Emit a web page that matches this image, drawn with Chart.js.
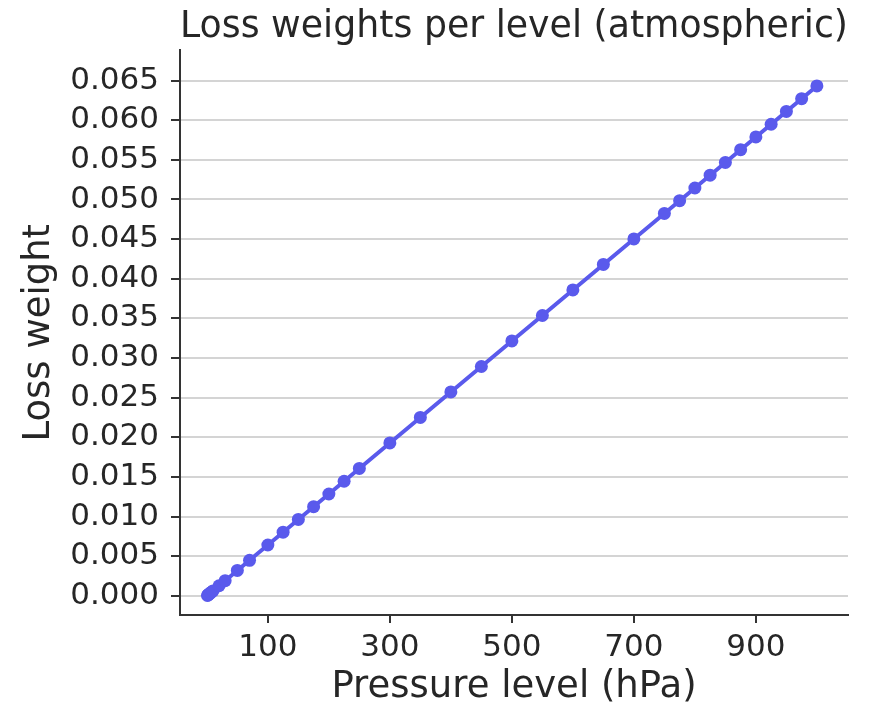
<!DOCTYPE html>
<html>
<head>
<meta charset="utf-8">
<title>Loss weights per level</title>
<script src="https://cdn.jsdelivr.net/npm/chart.js@4/dist/chart.umd.min.js"></script>
<style>
  html, body { margin: 0; padding: 0; background: #fff; }
  #wrap { width: 879px; height: 705px; }
</style>
</head>
<body>
<div id="wrap"><canvas id="lossChart"></canvas></div>
<script>
// Pressure levels (hPa) and their loss weights
const levels = [1, 2, 3, 5, 7, 10, 20, 30, 50, 70, 100, 125, 150, 175, 200, 225, 250,
  300, 350, 400, 450, 500, 550, 600, 650, 700, 750, 775, 800, 825, 850, 875, 900,
  925, 950, 975, 1000];
const weights = [0.00006, 0.00013, 0.00019, 0.00032, 0.00045, 0.00064, 0.00129, 0.00193,
  0.00322, 0.00450, 0.00643, 0.00804, 0.00965, 0.01126, 0.01286, 0.01447, 0.01608,
  0.01930, 0.02251, 0.02573, 0.02894, 0.03216, 0.03537, 0.03859, 0.04181, 0.04502,
  0.04824, 0.04985, 0.05145, 0.05306, 0.05467, 0.05628, 0.05789, 0.05949, 0.06110,
  0.06271, 0.06432];

// Axis ticks
const xTicks = [100, 300, 500, 700, 900];
const yTicks = [0, 0.005, 0.01, 0.015, 0.02, 0.025, 0.03, 0.035, 0.04, 0.045, 0.05,
  0.055, 0.06, 0.065];
const yTickLabels = ['0.000', '0.005', '0.010', '0.015', '0.020', '0.025', '0.030',
  '0.035', '0.040', '0.045', '0.050', '0.055', '0.060', '0.065'];

const fontFamily = '"DejaVu Sans", sans-serif';
const inkColor = '#333';
const textColor = '#262626';
const lineColor = '#5a5aec';

const points = levels.map((p, i) => ({ x: p, y: weights[i] }));

const ctx = document.getElementById('lossChart').getContext('2d');
new Chart(ctx, {
  type: 'line',
  data: {
    datasets: [{
      label: 'Loss weight',
      data: points,
      borderColor: lineColor,
      backgroundColor: lineColor,
      borderWidth: 4,
      pointRadius: 6.5,
      pointHoverRadius: 6.5,
      pointBorderWidth: 0,
      tension: 0,
      fill: false
    }]
  },
  options: {
    responsive: true,
    maintainAspectRatio: false,
    animation: false,
    layout: { padding: { left: 0, right: 31, top: 0, bottom: 0 } },
    plugins: {
      legend: { display: false },
      tooltip: { enabled: false },
      title: {
        display: true,
        fullSize: false,
        text: 'Loss weights per level (atmospheric)',
        color: textColor,
        font: { family: fontFamily, size: 37, weight: 'normal', lineHeight: 1.2 },
        padding: { top: 5, bottom: 1 }
      }
    },
    scales: {
      x: {
        type: 'linear',
        min: -44,
        max: 1051,
        afterBuildTicks: (scale) => { scale.ticks = xTicks.map(v => ({ value: v })); },
        afterFit: (scale) => { scale.height = 90; },
        border: { display: true, color: inkColor, width: 2 },
        grid: { drawOnChartArea: false, drawTicks: true, tickLength: 8, tickColor: inkColor, lineWidth: 2 },
        ticks: {
          color: textColor,
          padding: 6,
          maxRotation: 0,
          font: { family: fontFamily, size: 31 },
          callback: (v) => String(v)
        },
        title: {
          display: true,
          text: 'Pressure level (hPa)',
          color: textColor,
          font: { family: fontFamily, size: 37, lineHeight: 1 },
          padding: { top: 0, bottom: -1 }
        }
      },
      y: {
        type: 'linear',
        min: -0.0024,
        max: 0.0688,
        afterBuildTicks: (scale) => { scale.ticks = yTicks.map(v => ({ value: v })); },
        afterFit: (scale) => { scale.width = 180; },
        border: { display: true, color: inkColor, width: 2 },
        grid: { color: '#d4d4d4', lineWidth: 2, drawTicks: true, tickLength: 9, tickColor: inkColor },
        ticks: {
          color: textColor,
          padding: 12,
          font: { family: fontFamily, size: 31 },
          callback: (v) => yTickLabels[yTicks.indexOf(v)]
        },
        title: {
          display: true,
          text: 'Loss weight',
          color: textColor,
          font: { family: fontFamily, size: 37, lineHeight: 1.2 },
          padding: { top: 17, bottom: 0 }
        }
      }
    }
  }
});
</script>
</body>
</html>
